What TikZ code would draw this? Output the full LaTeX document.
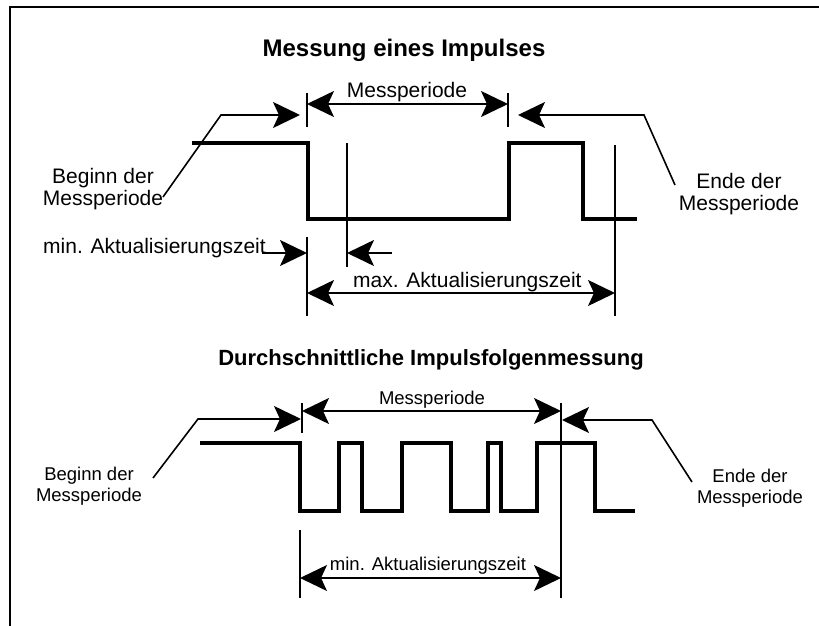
\documentclass[tikz,border=0pt]{standalone}
\usepackage{fontspec}
\setmainfont{Liberation Sans}
\usetikzlibrary{arrows.meta}
\begin{document}
\begin{tikzpicture}[x=1pt,y=-1pt,
  fine/.style={line width=1.6pt},
  wave/.style={line width=4.5pt, line join=miter},
  frame/.style={line width=2pt},
  arr/.style={fine, -{Stealth[length=27pt,width=26pt,inset=6pt]}},
  darr/.style={fine, {Stealth[length=27pt,width=26pt,inset=6pt]}-{Stealth[length=27pt,width=26pt,inset=6pt]}},
  bigtxt/.style={font=\fontsize{21}{22}\selectfont, inner sep=0pt, anchor=base},
  smtxt/.style={font=\fontsize{18.5}{21}\selectfont, inner sep=0pt, anchor=base},
  title1/.style={font=\bfseries\fontsize{24}{28}\selectfont, inner sep=0pt, anchor=base},
  title2/.style={font=\bfseries\fontsize{22}{26}\selectfont, inner sep=0pt, anchor=base}
]
\useasboundingbox (0,0) rectangle (819,626);
\fill[white] (0,0) rectangle (819,626);
% frame
\draw[frame] (10,630) -- (10,7) -- (825,7);

% ================= top diagram =================
\node[title1] (T1) at (404,57) {Messung eines Impulses};

% waveform
\draw[wave] (192,143) -- (308,143) -- (308,219) -- (509,219) -- (509,143)
  -- (583,143) -- (583,219) -- (637,219);

% coordinates
\coordinate (a1) at (307,93);  \coordinate (a2) at (307,127);
\coordinate (b1) at (508,93);  \coordinate (b2) at (508,127);
\coordinate (mpL) at (307,104); \coordinate (mpR) at (508,104);
\coordinate (v1t) at (347,143); \coordinate (v1b) at (347,267);
\coordinate (v2t) at (615,145); \coordinate (v2b) at (615,316);
\coordinate (v0t) at (307,237); \coordinate (v0b) at (307,316);
\coordinate (bk) at (163,197); \coordinate (bm) at (221,115); \coordinate (bt) at (300,115);
\coordinate (ek) at (675,185); \coordinate (em) at (644,115); \coordinate (et) at (518,115);
\coordinate (m1s) at (262,253); \coordinate (m1t) at (307,253);
\coordinate (m2s) at (392,253); \coordinate (m2t) at (347,253);
\coordinate (xL) at (307,293); \coordinate (xR) at (615,293);

\draw[fine] (a1) -- (a2);
\draw[fine] (b1) -- (b2);
\draw[darr] (mpL) -- (mpR);
\draw[fine] (v1t) -- (v1b);
\draw[fine] (v2t) -- (v2b);
\draw[fine] (v0t) -- (v0b);
\draw[arr] (bk) -- (bm) -- (bt);
\draw[arr] (ek) -- (em) -- (et);
\draw[arr] (m1s) -- (m1t);
\draw[arr] (m2s) -- (m2t);
\draw[darr] (xL) -- (xR);

\node[bigtxt] (mp1) at (407,97) {Messperiode};
\node[bigtxt, align=center] (beg1) at (103,205) {Beginn der\\Messperiode};
\node[bigtxt, align=center] (end1) at (739,210) {Ende der\\Messperiode};
\node[bigtxt, anchor=base west] (min1) at (43,253) {min. Aktualisierungszeit};
\node[bigtxt, anchor=base west] (max1) at (353,287) {max. Aktualisierungszeit};

% ================= bottom diagram =================
\node[title2] (T2) at (431,365) {Durchschnittliche Impulsfolgenmessung};

\draw[wave] (200,443) -- (300,443) -- (300,511) -- (339,511) -- (339,443)
  -- (362,443) -- (362,511) -- (402,511) -- (402,443) -- (451,443)
  -- (451,511) -- (488,511) -- (488,443) -- (501,443) -- (501,511)
  -- (537,511) -- (537,443) -- (595,443) -- (595,511) -- (635,511);

\coordinate (c1) at (302,403); \coordinate (c2) at (302,433);
\coordinate (d1) at (561,403); \coordinate (d2) at (561,598);
\coordinate (nL) at (302,411); \coordinate (nR) at (561,411);
\coordinate (g1) at (300,530); \coordinate (g2) at (300,598);
\coordinate (hL) at (300,578); \coordinate (hR) at (561,578);
\coordinate (pk) at (153,478); \coordinate (pm) at (198,419); \coordinate (pt) at (301,419);
\coordinate (qk) at (692,482); \coordinate (qm) at (652,420); \coordinate (qt) at (562,420);

\draw[fine] (c1) -- (c2);
\draw[fine] (d1) -- (d2);
\draw[darr] (nL) -- (nR);
\draw[fine] (g1) -- (g2);
\draw[darr] (hL) -- (hR);
\draw[arr] (pk) -- (pm) -- (pt);
\draw[arr] (qk) -- (qm) -- (qt);

\node[smtxt] (mp2) at (432,404) {Messperiode};
\node[smtxt, align=center] (beg2) at (89,501) {Beginn der\\Messperiode};
\node[smtxt, align=center] (end2) at (750,503) {Ende der\\Messperiode};
\node[smtxt] (min2) at (428,570) {min. Aktualisierungszeit};
\end{tikzpicture}
\end{document}
